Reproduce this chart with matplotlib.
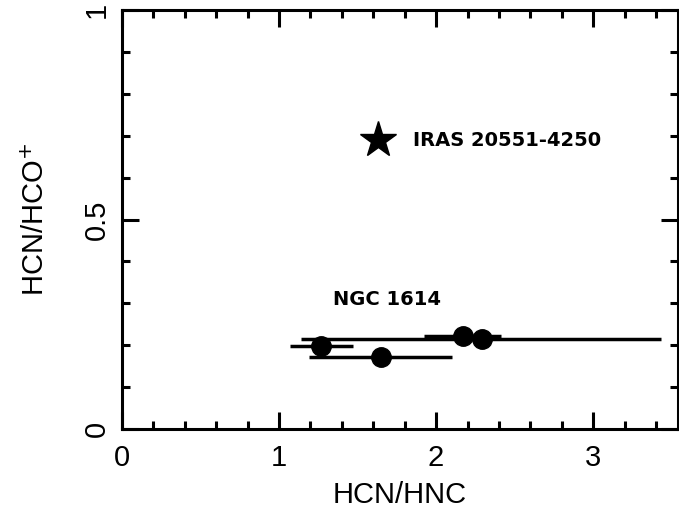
import matplotlib
matplotlib.use("Agg")
import matplotlib.pyplot as plt
from matplotlib.ticker import MultipleLocator

# dados: NGC 1614 (circulos) e IRAS 20551-4250 (estrela)
hcn_hnc = [1.27, 1.65, 2.17, 2.29]
hcn_hco = [0.197, 0.172, 0.222, 0.215]
err_lo = [1.07, 1.19, 1.92, 1.14]
err_hi = [1.47, 2.10, 2.41, 3.43]

iras_x = [1.63]
iras_y = [0.69]

plt.rcParams['font.family'] = ['Liberation Sans', 'DejaVu Sans']

fig = plt.figure(figsize=(6.79, 5.21), dpi=100)
ax = fig.add_axes([122/679, 1-429/521, 556/679, 419/521])

xerr = [[x - lo for x, lo in zip(hcn_hnc, err_lo)],
        [hi - x for x, hi in zip(hcn_hnc, err_hi)]]
ax.errorbar(hcn_hnc, hcn_hco, xerr=xerr, fmt='o', color='black', ms=14,
            elinewidth=2.5, capsize=0)
ax.plot(iras_x, iras_y, '*', color='black', ms=27)

# rotulos das fontes
ax.text(1.85, 0.688, "IRAS 20551-4250", fontsize=14, fontweight='bold',
        family='DejaVu Sans', va='center')
ax.text(1.345, 0.31, "NGC 1614", fontsize=14, fontweight='bold',
        family='DejaVu Sans', va='center')

ax.set_xlim(0, 3.54)
ax.set_ylim(0, 1)
ax.xaxis.set_major_locator(MultipleLocator(1))
ax.xaxis.set_minor_locator(MultipleLocator(0.2))
ax.yaxis.set_major_locator(MultipleLocator(0.5))
ax.yaxis.set_minor_locator(MultipleLocator(0.1))
ax.set_yticks([0, 0.5, 1])
ax.set_yticklabels(["0", "0.5", "1"], rotation=90, va='center')
ax.tick_params(which='both', direction='in', top=True, right=True, width=2.2, labelsize=21)
ax.tick_params(which='major', length=12)
ax.tick_params(axis='x', which='major', pad=11)
ax.tick_params(axis='y', which='major', pad=8)
ax.tick_params(which='minor', length=6)
for s in ax.spines.values():
    s.set_linewidth(2.2)

ax.set_xlabel("HCN/HNC", fontsize=21, labelpad=6)
ax.set_ylabel("HCN/HCO$^{+}$", fontsize=21, labelpad=24)

fig.savefig("out.png", dpi=100)
